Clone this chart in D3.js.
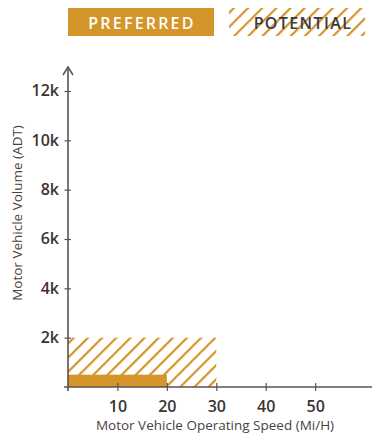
<!DOCTYPE html>
<html><head><meta charset="utf-8">
<script src="https://cdn.jsdelivr.net/npm/d3@7"></script>
<style>body{margin:0;background:#fff;}svg{display:block;font-family:"Open Sans",Lato,sans-serif;}</style>
</head><body><svg id="c" width="373" height="435"></svg>
<script>
const seriesNames = ["PREFERRED", "POTENTIAL"];
const speedMax = [20, 30];
const volumeMax = [500, 2000];
const xTicks = [10, 20, 30, 40, 50];
const yTicks = [2000, 4000, 6000, 8000, 10000, 12000];
const yTickLabels = ["2k", "4k", "6k", "8k", "10k", "12k"];
const xTitle = "Motor Vehicle Operating Speed (Mi/H)";
const yTitle = "Motor Vehicle Volume (ADT)";

const gold = "#d4952a", axisCol = "#5b5252", textCol = "#3b3333";
const svg = d3.select("#c");
const x = d3.scaleLinear().domain([0, 61.5]).range([68, 372]);
const y = d3.scaleLinear().domain([0, 12000]).range([387, 91]);

const defs = svg.append("defs");
const pat = defs.append("pattern").attr("id","hatch").attr("patternUnits","userSpaceOnUse")
  .attr("width",10).attr("height",10).attr("patternTransform","rotate(45)");
pat.append("line").attr("x1",0).attr("y1",0).attr("x2",0).attr("y2",10)
  .attr("stroke",gold).attr("stroke-width",4.4);

// bars: potential (hatched) then preferred (solid)
svg.append("rect").attr("x",x(0)).attr("y",y(volumeMax[1]))
  .attr("width",x(speedMax[1])-x(0)).attr("height",y(0)-y(volumeMax[1])).attr("fill","url(#hatch)");
svg.append("rect").attr("x",x(0)).attr("y",y(volumeMax[0]))
  .attr("width",x(speedMax[0])-x(0)).attr("height",y(0)-y(volumeMax[0])).attr("fill",gold);

// axes
const xa = svg.append("g").attr("transform",`translate(0,${y(0)})`)
  .call(d3.axisBottom(x).tickValues(xTicks).tickSize(0).tickPadding(0));
xa.select(".domain").remove();
xa.selectAll(".tick line").attr("y1",-4).attr("y2",4).attr("stroke",axisCol).attr("stroke-width",1.2);
xa.selectAll(".tick text").attr("y",14).attr("dy","0.71em").attr("font-size",16).attr("font-weight",600)
  .attr("fill",textCol).attr("font-family","'Open Sans', sans-serif");
svg.append("line").attr("x1",x(0)-4).attr("x2",372).attr("y1",y(0)).attr("y2",y(0)).attr("stroke",axisCol).attr("stroke-width",1.6);

const ya = svg.append("g").attr("transform",`translate(${x(0)},0)`)
  .call(d3.axisLeft(y).tickValues(yTicks).tickFormat((d,i)=>yTickLabels[i]).tickSize(0).tickPadding(0));
ya.select(".domain").remove();
ya.selectAll(".tick line").attr("x1",-3.5).attr("x2",3).attr("stroke",axisCol).attr("stroke-width",1.2);
ya.selectAll(".tick text").attr("x",-9).attr("dy","0.3em").attr("font-size",16).attr("font-weight",600)
  .attr("fill",textCol).attr("font-family","'Open Sans', sans-serif");
svg.append("line").attr("x1",x(0)).attr("x2",x(0)).attr("y1",y(0)+4).attr("y2",67).attr("stroke",axisCol).attr("stroke-width",1.6);
svg.append("path").attr("d",`M${x(0)-5},${75} L${x(0)},${67} L${x(0)+5},${75}`).attr("fill","none")
  .attr("stroke",axisCol).attr("stroke-width",1.5);

// titles
svg.append("text").attr("x",215).attr("y",430).attr("text-anchor","middle").attr("font-size",13.5)
  .attr("fill","#4a4242").text(xTitle);
svg.append("text").attr("transform","translate(22,213) rotate(-90)").attr("text-anchor","middle")
  .attr("font-size",13.5).attr("fill","#4a4242").text(yTitle);

// legend
svg.append("rect").attr("x",68).attr("y",8).attr("width",146).attr("height",28).attr("fill",gold);
svg.append("text").attr("x",142).attr("y",28.5).attr("text-anchor","middle").attr("font-size",16).attr("font-weight",600)
  .attr("letter-spacing",2.2).attr("fill","#fff").text(seriesNames[0]);
svg.append("rect").attr("x",229).attr("y",8).attr("width",136).attr("height",28).attr("fill","url(#hatch)");
svg.append("text").attr("x",303).attr("y",28.5).attr("text-anchor","middle").attr("font-size",16).attr("font-weight",600)
  .attr("letter-spacing",1.4).attr("fill","#3b3b3e").text(seriesNames[1]);
</script></body></html>
